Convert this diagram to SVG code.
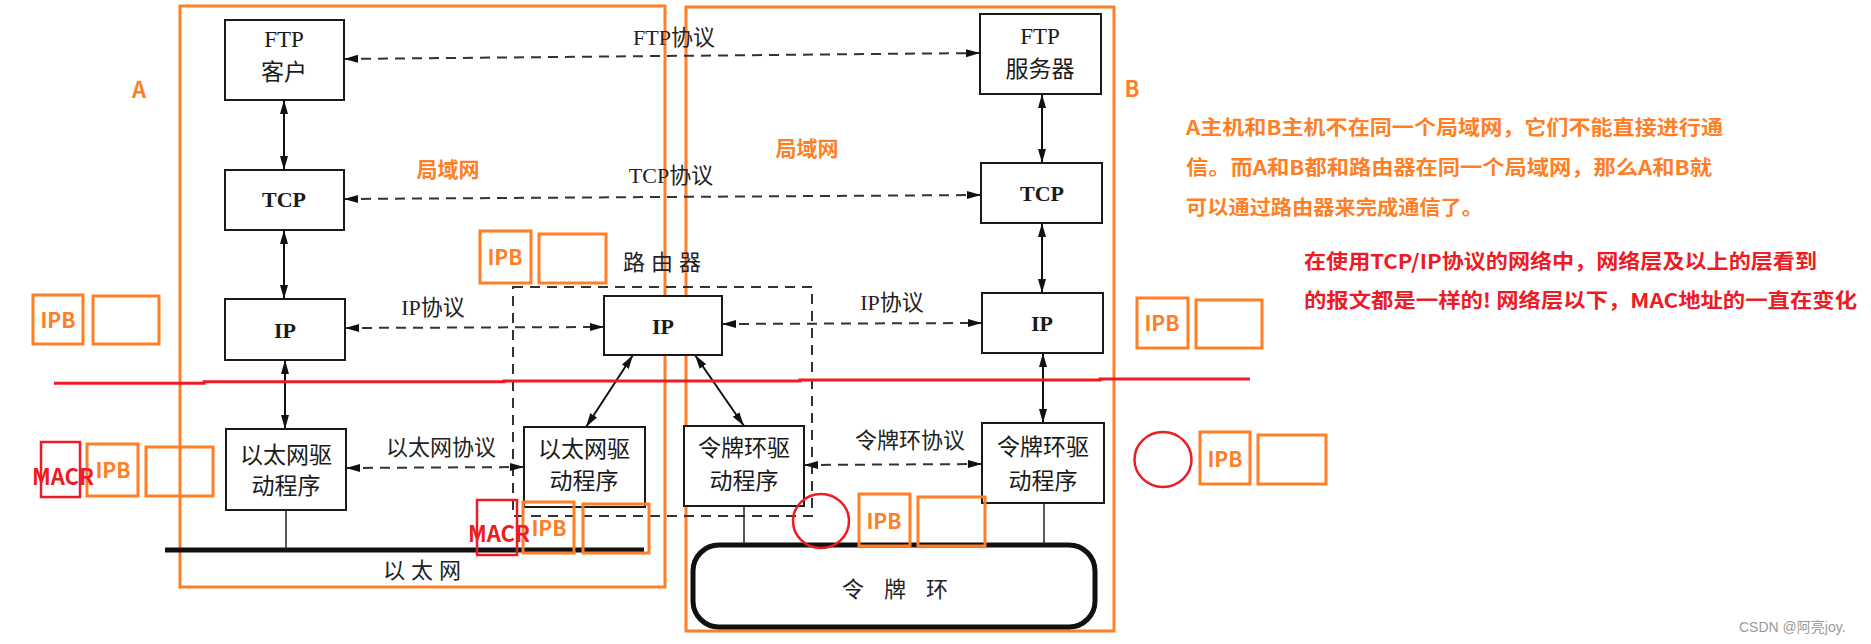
<svg xmlns="http://www.w3.org/2000/svg" width="1871" height="644" viewBox="0 0 1871 644">
<defs>
<marker id="ah" viewBox="0 0 14 10" refX="14" refY="5" markerWidth="14" markerHeight="10" markerUnits="userSpaceOnUse" orient="auto-start-reverse">
<path d="M0,1 L14,5 L0,9 z" fill="#111"/>
</marker>
<style>
.node rect{fill:#fff;stroke:#1a1a1a;stroke-width:2}
.nt{font-family:"Liberation Serif","Noto Sans CJK SC",serif;font-size:23px;fill:#1a1a1a;text-anchor:middle}
.bt{font-weight:bold;font-size:22px}
.lbl{font-family:"Liberation Serif","Noto Sans CJK SC",serif;font-size:22px;fill:#222;text-anchor:middle}
.dash{stroke:#333;stroke-width:2;stroke-dasharray:10 7;fill:none}
.solid{stroke:#111;stroke-width:2;fill:none}
.or{fill:none;stroke:#ff7f27;stroke-width:3}
.rd{fill:none;stroke:#ed1c24;stroke-width:2.5}
.ot{font-family:"Noto Sans CJK SC","Open Sans",sans-serif;font-weight:bold;fill:#ff7f27}
.rt{font-family:"Noto Sans CJK SC","Open Sans",sans-serif;font-weight:bold;fill:#ed1c24}
</style>
</defs>
<rect width="1871" height="644" fill="#fff"/>

<g id="boxA"><rect x="180" y="6" width="485" height="581" class="or"/></g>
<g id="boxB"><rect x="686" y="7" width="428" height="624" class="or"/></g>

<g id="router">
<rect x="513" y="287" width="299" height="229" class="dash"/>
<text class="lbl" x="665" y="270" letter-spacing="6">路由器</text>
</g>

<g id="ethernet">
<line x1="165" y1="550" x2="644" y2="550" stroke="#111" stroke-width="5"/>
<text class="lbl" x="425" y="578" letter-spacing="6">以太网</text>
</g>

<g id="tokenring">
<rect x="693" y="545" width="402" height="82" rx="26" ry="26" fill="none" stroke="#111" stroke-width="5"/>
<text class="lbl" x="905" y="597" font-size="24" letter-spacing="20">令牌环</text>
</g>

<g id="connectors">
<line x1="284" y1="100" x2="284" y2="170" class="solid" marker-start="url(#ah)" marker-end="url(#ah)"/>
<line x1="284" y1="230" x2="284" y2="299" class="solid" marker-start="url(#ah)" marker-end="url(#ah)"/>
<line x1="285" y1="360" x2="285" y2="429" class="solid" marker-start="url(#ah)" marker-end="url(#ah)"/>
<line x1="1042" y1="94" x2="1042" y2="163" class="solid" marker-start="url(#ah)" marker-end="url(#ah)"/>
<line x1="1042" y1="223" x2="1042" y2="293" class="solid" marker-start="url(#ah)" marker-end="url(#ah)"/>
<line x1="1043" y1="353" x2="1043" y2="423" class="solid" marker-start="url(#ah)" marker-end="url(#ah)"/>
<line x1="633" y1="355" x2="586" y2="427" class="solid" marker-start="url(#ah)" marker-end="url(#ah)"/>
<line x1="695" y1="355" x2="744" y2="426" class="solid" marker-start="url(#ah)" marker-end="url(#ah)"/>
<line x1="286" y1="510" x2="286" y2="550" stroke="#222" stroke-width="1.5"/>
<line x1="744" y1="506" x2="744" y2="545" stroke="#222" stroke-width="1.5"/>
<line x1="1044" y1="503" x2="1044" y2="545" stroke="#222" stroke-width="1.5"/>
<line x1="344" y1="59" x2="980" y2="53" class="dash" marker-start="url(#ah)" marker-end="url(#ah)"/>
<line x1="344" y1="199" x2="981" y2="195" class="dash" marker-start="url(#ah)" marker-end="url(#ah)"/>
<line x1="345" y1="328" x2="604" y2="327" class="dash" marker-start="url(#ah)" marker-end="url(#ah)"/>
<line x1="722" y1="324" x2="982" y2="323" class="dash" marker-start="url(#ah)" marker-end="url(#ah)"/>
<line x1="346" y1="468" x2="524" y2="467" class="dash" marker-start="url(#ah)" marker-end="url(#ah)"/>
<line x1="804" y1="465" x2="982" y2="464" class="dash" marker-start="url(#ah)" marker-end="url(#ah)"/>
<text class="lbl" x="674" y="45">FTP协议</text>
<text class="lbl" x="671" y="183">TCP协议</text>
<text class="lbl" x="433" y="315">IP协议</text>
<text class="lbl" x="892" y="310">IP协议</text>
<text class="lbl" x="441" y="455">以太网协议</text>
<text class="lbl" x="910" y="448">令牌环协议</text>
</g>

<g id="ftpc" class="node"><rect x="225" y="20" width="119" height="80"/><text class="nt" x="284" y="47" font-size="25">FTP</text><text class="nt" x="284" y="80">客户</text></g>
<g id="tcpl" class="node"><rect x="225" y="170" width="119" height="60"/><text class="nt bt" x="284" y="207">TCP</text></g>
<g id="ipl" class="node"><rect x="225" y="299" width="120" height="61"/><text class="nt bt" x="285" y="338">IP</text></g>
<g id="ethl" class="node"><rect x="226" y="429" width="120" height="81"/><text class="nt" x="286" y="463">以太网驱</text><text class="nt" x="286" y="494">动程序</text></g>
<g id="rip" class="node"><rect x="604" y="296" width="118" height="59"/><text class="nt bt" x="663" y="334">IP</text></g>
<g id="reth" class="node"><rect x="524" y="427" width="121" height="80"/><text class="nt" x="584" y="457">以太网驱</text><text class="nt" x="584" y="489">动程序</text></g>
<g id="rtok" class="node"><rect x="684" y="426" width="120" height="80"/><text class="nt" x="744" y="456">令牌环驱</text><text class="nt" x="744" y="489">动程序</text></g>
<g id="ftps" class="node"><rect x="980" y="14" width="121" height="80"/><text class="nt" x="1040" y="44" font-size="25">FTP</text><text class="nt" x="1040" y="77">服务器</text></g>
<g id="tcpr" class="node"><rect x="981" y="163" width="121" height="60"/><text class="nt bt" x="1042" y="201">TCP</text></g>
<g id="ipr" class="node"><rect x="982" y="293" width="121" height="60"/><text class="nt bt" x="1042" y="331">IP</text></g>
<g id="tokr" class="node"><rect x="982" y="423" width="122" height="80"/><text class="nt" x="1043" y="455">令牌环驱</text><text class="nt" x="1043" y="489">动程序</text></g>

<g id="redline"><polyline points="54,383.3 204,383.3 204,381.8 504,381.8 504,381 800,381 800,380 1100,380 1100,379 1250,379" fill="none" stroke="#ed1c24" stroke-width="3"/></g>

<g id="labels">
<text class="ot" x="139" y="98" font-size="22" text-anchor="middle">A</text>
<text class="ot" x="1132" y="97" font-size="22" text-anchor="middle">B</text>
<text class="ot" x="448" y="177" font-size="21" text-anchor="middle">局域网</text>
<text class="ot" x="807" y="156" font-size="21" text-anchor="middle">局域网</text>
</g>

<g id="ipb1"><rect x="480" y="231" width="51" height="52" class="or"/><rect x="539" y="234" width="67" height="49" class="or"/><text class="ot" x="505" y="265" font-size="21" text-anchor="middle">IPB</text></g>
<g id="ipb2"><rect x="33" y="295" width="50" height="49" class="or"/><rect x="93" y="296" width="66" height="48" class="or"/><text class="ot" x="58" y="328" font-size="21" text-anchor="middle">IPB</text></g>
<g id="ipb3"><rect x="1137" y="298" width="51" height="50" class="or"/><rect x="1196" y="300" width="66" height="48" class="or"/><text class="ot" x="1162" y="331" font-size="21" text-anchor="middle">IPB</text></g>
<g id="ipb4"><rect x="41" y="442" width="39" height="55" class="rd"/><rect x="87" y="444" width="51" height="52" class="or"/><rect x="146" y="447" width="67" height="49" class="or"/><text class="rt" x="63" y="485" font-size="22" text-anchor="middle">MACR</text><text class="ot" x="113" y="478" font-size="21" text-anchor="middle">IPB</text></g>
<g id="ipb5"><rect x="477" y="500" width="40" height="55" class="rd"/><rect x="523" y="502" width="51" height="51" class="or"/><rect x="583" y="504" width="66" height="49" class="or"/><text class="rt" x="499" y="542" font-size="22" text-anchor="middle">MACR</text><text class="ot" x="549" y="536" font-size="21" text-anchor="middle">IPB</text></g>
<g id="ipb6"><ellipse cx="821" cy="521" rx="28" ry="27" class="rd"/><rect x="859" y="494" width="51" height="52" class="or"/><rect x="918" y="497" width="67" height="49" class="or"/><text class="ot" x="884" y="529" font-size="21" text-anchor="middle">IPB</text></g>
<g id="ipb7"><ellipse cx="1163" cy="459.5" rx="28.5" ry="27.5" class="rd"/><rect x="1200" y="432" width="50" height="52" class="or"/><rect x="1258" y="435" width="68" height="49" class="or"/><text class="ot" x="1225" y="467" font-size="21" text-anchor="middle">IPB</text></g>

<g id="notes">
<text class="ot" x="1186" y="135" font-size="20" textLength="537" lengthAdjust="spacingAndGlyphs">A主机和B主机不在同一个局域网，它们不能直接进行通</text>
<text class="ot" x="1186" y="175" font-size="20" textLength="526" lengthAdjust="spacingAndGlyphs">信。而A和B都和路由器在同一个局域网，那么A和B就</text>
<text class="ot" x="1186" y="215" font-size="20" textLength="297" lengthAdjust="spacingAndGlyphs">可以通过路由器来完成通信了。</text>
<text class="rt" x="1304" y="269" font-size="20" textLength="513" lengthAdjust="spacingAndGlyphs">在使用TCP/IP协议的网络中，网络层及以上的层看到</text>
<text class="rt" x="1304" y="308" font-size="20" textLength="553" lengthAdjust="spacingAndGlyphs">的报文都是一样的! 网络层以下，MAC地址的一直在变化</text>
</g>

<text x="1739" y="632" font-family="'Liberation Sans','Noto Sans CJK SC',sans-serif" font-size="14" fill="#999">CSDN @阿亮joy.</text>
</svg>
